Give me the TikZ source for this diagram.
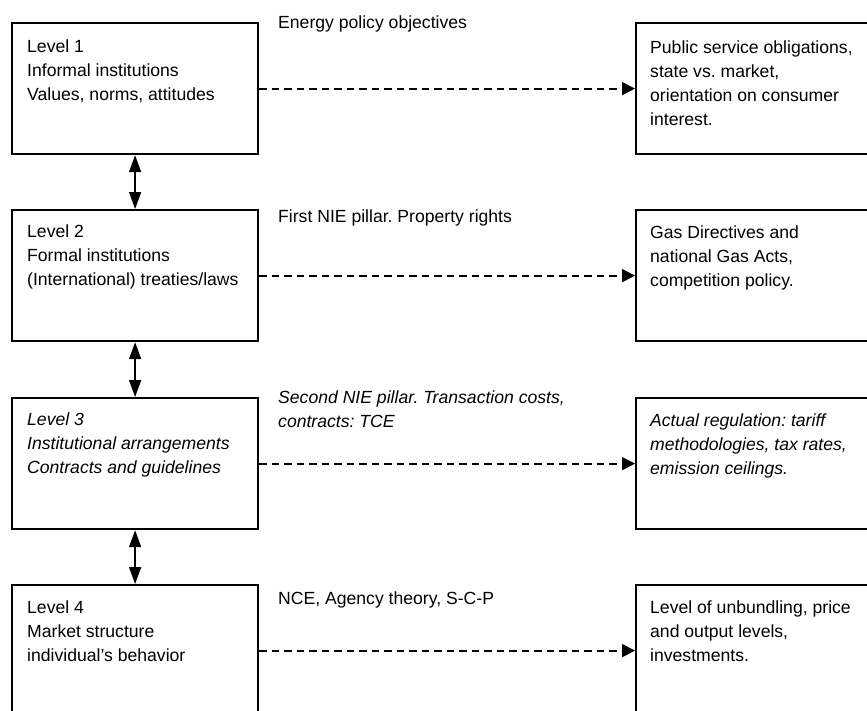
\documentclass[tikz,border=0pt]{standalone}
\usepackage{fontspec}
\setmainfont{Liberation Sans}
\usetikzlibrary{arrows.meta}
\frenchspacing
\begin{document}
\begin{tikzpicture}[x=1pt,y=-1pt,
  levelbox/.style={draw=black,line width=2.2pt,rectangle,anchor=north west,minimum width=246pt,minimum height=131pt,inner sep=0pt},
  resbox/.style={draw=black,line width=2.2pt,rectangle,anchor=north west,minimum width=300pt,minimum height=131pt,inner sep=0pt},
  txt/.style={anchor=north west,inner sep=0pt,align=left,font=\fontsize{17.6}{24}\selectfont},
  lbl/.style={anchor=base west,inner sep=0pt,align=left,font=\fontsize{17.6}{24}\selectfont},
  duo/.style={line width=1.6pt,{Triangle[length=17pt,width=12pt]}-{Triangle[length=17pt,width=12pt]}},
  dsh/.style={line width=1.8pt,dash pattern=on 7.5pt off 5pt,-{Triangle[length=13pt,width=13pt]}}]
\useasboundingbox (0,0) rectangle (867,710);
\clip (0,0) rectangle (867,710);
% left level boxes
\node[levelbox] (L1) at (11,22) {};
\node[levelbox] (L2) at (11,209) {};
\node[levelbox] (L3) at (11,397) {};
\node[levelbox] (L4) at (11,584) {};
% right boxes
\node[resbox] (R1) at (635,22) {};
\node[resbox] (R2) at (635,209) {};
\node[resbox] (R3) at (635,397) {};
\node[resbox] (R4) at (635,584) {};
% box texts
\node[txt] (t1) at (27,35.2) {\strut Level 1\\Informal institutions\\Values, norms, attitudes};
\node[txt] (t2) at (27,220.2) {\strut Level 2\\Formal institutions\\(International) treaties/laws};
\node[txt,font=\fontsize{17.6}{24}\selectfont\itshape] (t3) at (27,408.2) {\strut Level 3\\Institutional arrangements\\Contracts and guidelines};
\node[txt] (t4) at (27,596.2) {\strut Level 4\\Market structure\\individual{\char"27}s behavior};
\node[txt] (r1) at (650,36.2) {\strut Public service obligations,\\state vs. market,\\orientation on consumer\\interest.};
\node[txt] (r2) at (650,221.2) {\strut Gas Directives and\\national Gas Acts,\\competition policy.};
\node[txt,font=\fontsize{17.6}{24}\selectfont\itshape] (r3) at (650,409.2) {\strut Actual regulation: tariff\\methodologies, tax rates,\\emission ceilings.};
\node[txt] (r4) at (650,596.2) {\strut Level of unbundling, price\\and output levels,\\investments.};
% labels above connectors
\node[lbl] (a1) at (278,28) {Energy policy objectives};
\node[lbl] (a2) at (278,222) {First NIE pillar. Property rights};
\node[txt,font=\fontsize{17.6}{24}\selectfont\itshape] (a3) at (278,386.4) {\strut Second NIE pillar. Transaction costs,\\contracts: TCE};
\node[lbl] (a4) at (278,604) {NCE, Agency theory, S-C-P};
% vertical double arrows
\draw[duo] (L1.south) -- (L2.north);
\draw[duo] (L2.south) -- (L3.north);
\draw[duo] (L3.south) -- (L4.north);
% dashed arrows
\draw[dsh] (L1.east) -- (R1.west);
\draw[dsh] (L2.east) -- (R2.west);
\draw[dsh] (L3.east) -- (R3.west);
\draw[dsh] (L4.east) -- (R4.west);
\end{tikzpicture}
\end{document}
